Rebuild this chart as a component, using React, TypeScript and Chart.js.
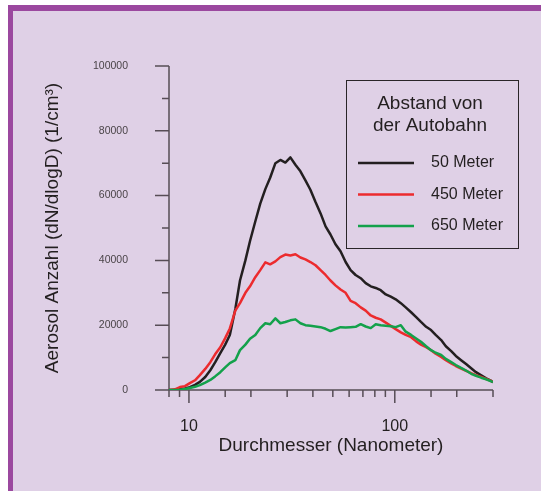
import React, { useEffect, useRef } from 'react';
import { Chart, registerables } from 'chart.js';

Chart.register(...registerables);

// Diameters in nanometres (x values, logarithmic axis)
const diameters = [
  8, 8.55, 9.04, 9.56, 10.1, 10.7, 11.3, 12.0, 12.7, 13.4,
  14.2, 15.0, 15.8, 16.8, 17.7, 18.8, 19.8, 21.0, 22.2, 23.5,
  24.8, 26.3, 27.8, 29.4, 31.1, 32.9, 34.8, 36.8, 38.9, 41.2,
  43.6, 46.1, 48.7, 51.5, 54.5, 57.7, 61.0, 64.5, 68.3, 72.2,
  76.4, 80.8, 85.4, 90.4, 95.6, 101, 107, 113, 120, 127,
  134, 142, 150, 158, 168, 177, 188, 198, 210, 222,
  235, 248, 263, 278, 294, 300,
];

// Aerosol number concentration (dN/dlogD, 1/cm³)
const meter50 = [
  0, 0, 300, 500, 900, 1600, 2500, 4000, 6100, 8500,
  11400, 14000, 17000, 25000, 33800, 40000, 46000, 52000, 57500, 62000,
  65500, 70000, 71000, 70200, 71800, 69500, 67500, 64700, 61800, 58000,
  54500, 50500, 48000, 45000, 42800, 39500, 37000, 35500, 34500, 33000,
  32000, 31500, 30800, 29500, 28800, 28000, 26800, 25500, 24000, 22500,
  21000, 19500, 18500, 17000, 15400, 13500, 12000, 10500, 9200, 8000,
  6700, 5500, 4500, 3600, 2800, 2400,
];
const meter450 = [
  0, 200, 900, 1200, 2100, 3000, 4600, 6500, 8600, 11000,
  13200, 16000, 19000, 24500, 26800, 30000, 32000, 34800, 37000, 39400,
  38800, 39700, 41000, 41800, 41500, 41900, 40900, 40300, 39500, 38500,
  37000, 35500, 33800, 32300, 31000, 30000, 27500, 26800, 25500, 24500,
  23000, 22300, 21800, 20800, 19800, 18800, 17800, 17000, 16300, 15000,
  14000, 13200, 12300, 11200, 10200, 9200, 8200, 7400, 6600, 5900,
  5200, 4600, 4000, 3400, 2800, 2500,
];
const meter650 = [
  0, 0, 100, 300, 600, 1000, 1500, 2300, 3100, 4200,
  5500, 7000, 8300, 9200, 12300, 14000, 15800, 17000, 19100, 20600,
  20300, 22100, 20600, 21000, 21500, 21800, 20600, 20000, 19800, 19600,
  19400, 18900, 18200, 18800, 19400, 19300, 19400, 19500, 20300, 19600,
  19100, 20300, 20000, 19800, 19700, 19400, 20000, 18000, 17000, 15900,
  14900, 13500, 12300, 11500, 10800, 9600, 8600, 7700, 6800, 6000,
  5000, 4400, 3800, 3300, 2700, 2400,
];

const seriesLabels = ['50 Meter', '450 Meter', '650 Meter'];
const seriesColors = ['#231f20', '#ec2b2e', '#13a14b'];
const legendTitle = ['Abstand von', 'der Autobahn'];
const xTitle = 'Durchmesser (Nanometer)';
const yTitle = 'Aerosol Anzahl (dN/dlogD) (1/cm³)';
const xLabelled = [10, 100];

const FONT = '"Liberation Sans", Arial, Helvetica, sans-serif';

const axesPlugin = {
  id: 'customAxes',
  beforeDatasetsDraw(chart: any) {
    const { ctx, chartArea: ca, scales } = chart;
    const xs = scales.x;
    const ys = scales.y;
    ctx.save();
    ctx.strokeStyle = '#574d56';
    ctx.lineWidth = 1.5;
    ctx.beginPath();
    ctx.moveTo(ca.left, ca.top);
    ctx.lineTo(ca.left, ca.bottom + 7);
    ctx.moveTo(ca.left - 14, ca.bottom);
    ctx.lineTo(ca.right, ca.bottom);
    ys.ticks.forEach((t: any) => {
      const py = ys.getPixelForValue(t.value);
      const len = t.value % 20000 === 0 ? 14 : 7;
      ctx.moveTo(ca.left - len, py);
      ctx.lineTo(ca.left, py);
    });
    xs.ticks.forEach((t: any) => {
      const px = xs.getPixelForValue(t.value);
      const lg = Math.log10(t.value);
      const major = Math.abs(lg - Math.round(lg)) < 1e-9;
      const len = major ? 13 : 7;
      ctx.moveTo(px, ca.bottom);
      ctx.lineTo(px, ca.bottom + len);
    });
    ctx.stroke();
    ctx.restore();
  },
};

const legendPlugin = {
  id: 'boxLegend',
  afterDraw(chart: any) {
    const { ctx, chartArea: ca } = chart;
    const bx = Math.round(ca.right - 147);
    const by = Math.round(ca.top + 14);
    const bw = 172;
    const bh = 168;
    ctx.save();
    ctx.strokeStyle = '#2a2528';
    ctx.lineWidth = 1;
    ctx.strokeRect(bx + 0.5, by + 0.5, bw, bh);
    ctx.fillStyle = '#231f20';
    ctx.font = `19px ${FONT}`;
    ctx.textAlign = 'center';
    ctx.textBaseline = 'middle';
    legendTitle.forEach((line, i) => ctx.fillText(line, bx + 84, by + 24 + i * 22));
    ctx.font = `16px ${FONT}`;
    ctx.textAlign = 'left';
    chart.data.datasets.forEach((ds: any, i: number) => {
      const ly = by + 83 + i * 31.5;
      ctx.strokeStyle = ds.borderColor;
      ctx.lineWidth = 2.5;
      ctx.beginPath();
      ctx.moveTo(bx + 12, ly);
      ctx.lineTo(bx + 68, ly);
      ctx.stroke();
      ctx.fillText(ds.label, bx + 85, ly);
    });
    ctx.restore();
  },
};

export default function App() {
  const canvasRef = useRef<HTMLCanvasElement | null>(null);

  useEffect(() => {
    if (!canvasRef.current) return;
    const seriesValues = [meter50, meter450, meter650];
    const chart = new Chart(canvasRef.current, {
      type: 'line',
      data: {
        datasets: seriesValues.map((vals, i) => ({
          label: seriesLabels[i],
          data: diameters.map((d, j) => ({ x: d, y: vals[j] })),
          borderColor: seriesColors[i],
          backgroundColor: seriesColors[i],
          borderWidth: 2.5,
          pointRadius: 0,
          tension: 0,
          fill: false,
          borderJoinStyle: 'round' as const,
          order: 3 - i,
        })),
      },
      options: {
        responsive: false,
        animation: false,
        layout: { padding: { left: 0, right: 48, top: 66, bottom: 0 } },
        plugins: {
          legend: { display: false },
          tooltip: { enabled: false },
        },
        scales: {
          x: {
            type: 'logarithmic',
            min: 8,
            max: 300,
            grid: { display: false, drawTicks: false },
            border: { display: false },
            ticks: {
              autoSkip: false,
              maxRotation: 0,
              padding: 27,
              color: '#231f20',
              font: { family: FONT, size: 16 },
              callback: (v: any) => (xLabelled.includes(Number(v)) ? String(v) : ''),
            },
            title: {
              display: true,
              text: xTitle,
              color: '#231f20',
              font: { family: FONT, size: 19 },
              padding: { top: 0, bottom: 34 },
            },
            afterFit: (scale: any) => {
              scale.height = 101;
            },
          },
          y: {
            type: 'linear',
            min: 0,
            max: 100000,
            grid: { display: false, drawTicks: false },
            border: { display: false },
            ticks: {
              stepSize: 10000,
              autoSkip: false,
              padding: 41,
              color: '#4a4448',
              font: { family: FONT, size: 10.5 },
              callback: (v: any) => (Number(v) % 20000 === 0 ? String(v) : ''),
            },
            title: {
              display: true,
              text: yTitle,
              color: '#231f20',
              font: { family: FONT, size: 19 },
              padding: { top: 41, bottom: 0 },
            },
            afterFit: (scale: any) => {
              scale.width = 169;
            },
          },
        },
      },
      plugins: [axesPlugin, legendPlugin],
    });
    return () => chart.destroy();
  }, []);

  return (
    <div style={{ position: 'absolute', left: 0, top: 0, width: 541, height: 491, background: '#ffffff', overflow: 'hidden' }}>
      <div
        style={{
          position: 'absolute',
          left: 8,
          top: 5,
          width: 560,
          height: 520,
          background: '#dfd0e6',
          borderTop: '6px solid #9b489f',
          borderLeft: '5px solid #9b489f',
          boxSizing: 'border-box',
        }}
      />
      <canvas ref={canvasRef} width={541} height={491} style={{ position: 'absolute', left: 0, top: 0 }} />
    </div>
  );
}
